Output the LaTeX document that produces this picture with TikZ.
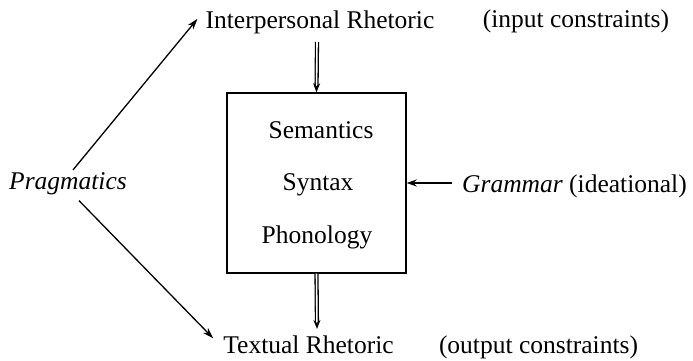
\documentclass[tikz,border=0pt]{standalone}
\usepackage{fontspec}
\setmainfont{Liberation Serif}
\usetikzlibrary{arrows.meta}
\begin{document}
\begin{tikzpicture}[x=1pt,y=-1pt,
  lbl/.style={font=\fontsize{25.5}{30}\selectfont, inner sep=0pt, anchor=base},
  diag/.style={line width=1.3pt, -{Stealth[length=11pt,width=7pt]}},
  dbl/.style={double, double distance=1.6pt, line width=1.3pt, -{Stealth[length=9pt,width=7pt]}},
  openarr/.style={line width=1.6pt, -{Stealth[open,length=10pt,width=7pt]}},
  boxst/.style={draw, line width=1.4pt, minimum width=179pt, minimum height=180pt, inner sep=0pt}]
\useasboundingbox (0,0) rectangle (693,360);
\node[boxst] (box) at (316.5,183) {};
\node[lbl] (ir) at (320,28) {Interpersonal Rhetoric};
\node[lbl] (ic) at (576,27) {(input constraints)};
\node[lbl] (tr) at (308.5,353) {Textual Rhetoric};
\node[lbl] (oc) at (538.5,353) {(output constraints)};
\node[lbl] (prag) at (68,189) {\itshape Pragmatics};
\node[lbl] (sem) at (321,138) {Semantics};
\node[lbl] (syn) at (318,190) {Syntax};
\node[lbl] (pho) at (317,243) {Phonology};
\node[lbl, anchor=base west] (gram) at (462,192) {\itshape Grammar\/ \upshape(ideational)};
\coordinate (top) at (317,42);
\coordinate (bot) at (317,329);
\coordinate (gs) at (452,183);
\draw[diag] ([xshift=5pt,yshift=2pt]prag.north) -- ([xshift=-8pt,yshift=3pt]ir.west);
\draw[diag] ([xshift=11pt,yshift=-6pt]prag.south) -- ([xshift=-10pt,yshift=6pt]tr.west);
\draw[dbl] (top) -- (box.north);
\draw[dbl] (box.south) -- (bot);
\draw[openarr] (gs) -- (box.east);
\end{tikzpicture}
\end{document}
